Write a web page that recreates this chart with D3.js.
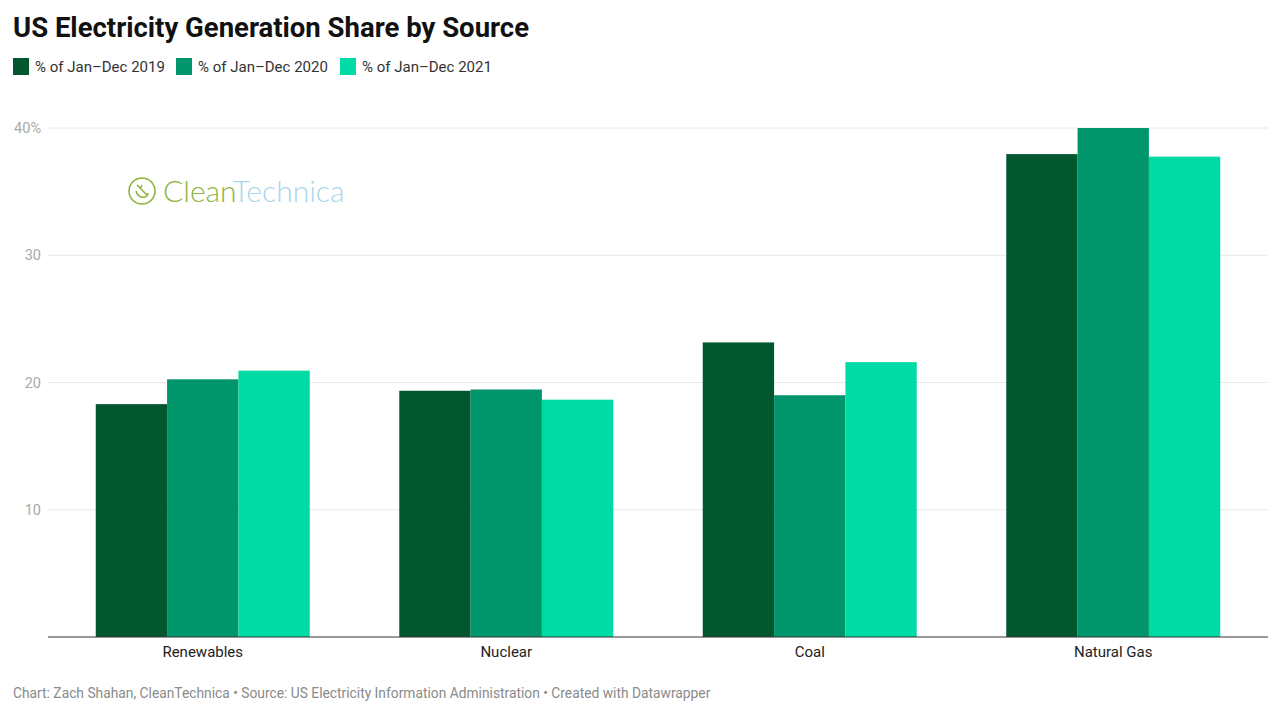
<!DOCTYPE html>
<html><head><meta charset="utf-8">
<script src="https://cdn.jsdelivr.net/npm/d3@7"></script>
<style>body{margin:0;background:#fff;font-family:Roboto,"Noto Sans",sans-serif;}</style>
</head><body><svg id="c" width="1280" height="715"></svg>
<script>
const categories = ["Renewables", "Nuclear", "Coal", "Natural Gas"];
const seriesNames = ["% of Jan–Dec 2019", "% of Jan–Dec 2020", "% of Jan–Dec 2021"];
const values2019 = [18.3, 19.35, 23.15, 37.95];
const values2020 = [20.25, 19.45, 19.0, 40.0];
const values2021 = [20.93, 18.65, 21.6, 37.75];
const yTicks = [10, 20, 30, 40];
const colors = ["#02572f", "#00956a", "#00daa5"];

const series = [values2019, values2020, values2021];
const svg = d3.select("#c");
const x0 = d3.scaleBand().domain(categories).range([51, 1265]).paddingInner(0.295).paddingOuter(0.1475);
const x1 = d3.scaleBand().domain(d3.range(series.length)).range([0, x0.bandwidth()]);
const y = d3.scaleLinear().domain([0, 40]).range([637, 128]);

svg.append("text").attr("x", 13).attr("y", 37).text("US Electricity Generation Share by Source")
  .attr("font-size", 27.5).attr("font-weight", 700).attr("fill", "#111");

// legend
const legX = [13, 176, 340];
seriesNames.forEach((s, i) => {
  const g = svg.append("g").attr("transform", `translate(${legX[i]},58)`);
  g.append("rect").attr("width", 16).attr("height", 17).attr("fill", colors[i]);
  g.append("text").attr("x", 22).attr("y", 14).text(s).attr("font-size", 15).attr("fill", "#333");
});

// gridlines
const grid = svg.append("g");
yTicks.forEach(t => {
  grid.append("line").attr("x1", 48).attr("x2", 1268).attr("y1", y(t)).attr("y2", y(t))
    .attr("stroke", "#e8e8e8").attr("stroke-width", 1);
  grid.append("text").attr("x", 41).attr("y", y(t) + 5).attr("text-anchor", "end")
    .attr("font-size", 14.5).attr("fill", "#a9a9a9").text(t === 40 ? t + "%" : t);
});

// logo
const logo = svg.append("g").attr("transform", "translate(128,177)");
logo.append("circle").attr("cx", 14).attr("cy", 14).attr("r", 13).attr("fill", "none").attr("stroke", "#8db43e").attr("stroke-width", 1.6);
logo.append("path").attr("d", "M9,8 L19,18 M14,8 L12,12 M8,14 C10,22 20,22 20,16").attr("fill", "none").attr("stroke", "#8db43e").attr("stroke-width", 1.6);
const lt = logo.append("text").attr("x", 35).attr("y", 25).attr("font-size", 30).attr("font-weight", 300)
  .attr("font-family", "Lato, Roboto, sans-serif");
lt.append("tspan").text("Clean").attr("fill", "#8db43e");
lt.append("tspan").text("Technica").attr("fill", "#a9d6ea");

// bars
const groups = svg.append("g").selectAll("g").data(categories).join("g")
  .attr("transform", d => `translate(${x0(d)},0)`);
groups.selectAll("rect").data((d, ci) => series.map((s, si) => ({si, v: s[ci]}))).join("rect")
  .attr("x", d => x1(d.si)).attr("width", x1.bandwidth())
  .attr("y", d => y(d.v)).attr("height", d => y(0) - y(d.v))
  .attr("fill", d => colors[d.si]);

// axis
svg.append("line").attr("x1", 48).attr("x2", 1268).attr("y1", 637).attr("y2", 637).attr("stroke", "#333").attr("stroke-width", 1);
categories.forEach(c => {
  svg.append("text").attr("x", x0(c) + x0.bandwidth() / 2).attr("y", 657).attr("text-anchor", "middle")
    .attr("font-size", 15).attr("fill", "#222").text(c);
});

svg.append("text").attr("x", 13).attr("y", 698).attr("font-size", 13.8).attr("fill", "#8a8a8a")
  .text("Chart: Zach Shahan, CleanTechnica • Source: US Electricity Information Administration • Created with Datawrapper");
</script></body></html>
